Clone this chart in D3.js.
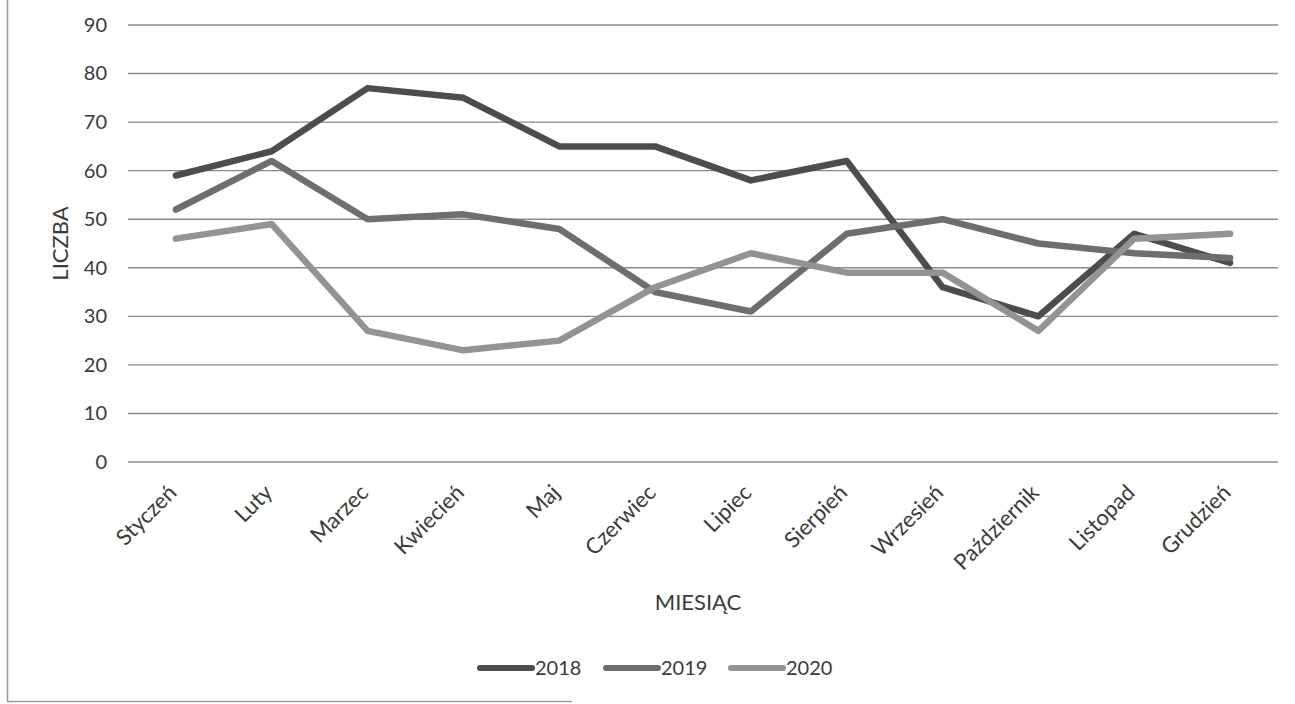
<!DOCTYPE html>
<html>
<head>
<meta charset="utf-8">
<script src="https://cdn.jsdelivr.net/npm/d3@7"></script>
<style>
  html, body { margin: 0; padding: 0; background: #fff; }
  svg { display: block; }
  text { font-family: Lato, "Open Sans", sans-serif; fill: #3a3a3a; }
</style>
</head>
<body>
<svg id="chart" width="1295" height="704"></svg>
<script>
// Miesiące (oś X)
const months = ["Styczeń", "Luty", "Marzec", "Kwiecień", "Maj", "Czerwiec",
                "Lipiec", "Sierpień", "Wrzesień", "Październik", "Listopad", "Grudzień"];
// Serie roczne
const years = ["2018", "2019", "2020"];
const values2018 = [59, 64, 77, 75, 65, 65, 58, 62, 36, 30, 47, 41];
const values2019 = [52, 62, 50, 51, 48, 35, 31, 47, 50, 45, 43, 42];
const values2020 = [46, 49, 27, 23, 25, 36, 43, 39, 39, 27, 46, 47];
// Podziałka osi Y
const yTicks = [0, 10, 20, 30, 40, 50, 60, 70, 80, 90];

const seriesColors = ["#4d4d4d", "#6e6e6e", "#939393"];
const series = [values2018, values2019, values2020].map((v, i) => ({
  name: years[i], values: v, color: seriesColors[i]
}));

const svg = d3.select("#chart");
const plot = { left: 128, right: 1278, top: 25, bottom: 462 };
const font = "Lato, 'Open Sans', sans-serif";

// Ramka wykresu (lewa i dolna krawędź)
svg.append("path")
  .attr("d", "M7.5,0 V701.5 H572")
  .attr("fill", "none")
  .attr("stroke", "#9a9a9a")
  .attr("stroke-width", 1.5);

const x = d3.scaleBand().domain(months).range([plot.left, plot.right]);
const y = d3.scaleLinear().domain([0, 90]).range([plot.bottom, plot.top]);

// Linie siatki
svg.append("g")
  .selectAll("line")
  .data(yTicks)
  .join("line")
  .attr("x1", plot.left).attr("x2", plot.right)
  .attr("y1", d => y(d)).attr("y2", d => y(d))
  .attr("stroke", "#8a8a8a")
  .attr("stroke-width", 1.4);

// Oś Y – etykiety
const yAxis = svg.append("g")
  .attr("transform", `translate(${plot.left - 21},0)`)
  .call(d3.axisLeft(y).tickValues(yTicks).tickSize(0).tickPadding(0));
yAxis.select(".domain").remove();
yAxis.selectAll("text")
  .style("font-family", font)
  .style("font-size", "20px")
  .attr("fill", "#3a3a3a");

// Oś X – etykiety obrócone
const xAxis = svg.append("g")
  .attr("transform", `translate(0,${plot.bottom})`)
  .call(d3.axisBottom(x).tickSize(0).tickPadding(0));
xAxis.select(".domain").remove();
xAxis.selectAll("text")
  .style("font-family", font)
  .style("font-size", "22px")
  .attr("fill", "#3a3a3a")
  .attr("text-anchor", "end")
  .attr("dy", null)
  .attr("y", 0)
  .attr("transform", "translate(2,32) rotate(-45)");

// Tytuły osi
svg.append("text")
  .attr("transform", `translate(68,${(plot.top + plot.bottom) / 2}) rotate(-90)`)
  .attr("text-anchor", "middle")
  .style("font-size", "22px")
  .text("LICZBA");

svg.append("text")
  .attr("x", 698).attr("y", 610)
  .attr("text-anchor", "middle")
  .style("font-size", "22px")
  .text("MIESIĄC");

// Linie serii
const line = d3.line()
  .x((d, i) => x(months[i]) + x.bandwidth() / 2)
  .y(d => y(d));

svg.append("g")
  .selectAll("path")
  .data(series)
  .join("path")
  .attr("d", d => line(d.values))
  .attr("fill", "none")
  .attr("stroke", d => d.color)
  .attr("stroke-width", 6.5)
  .attr("stroke-linejoin", "round")
  .attr("stroke-linecap", "round");

// Legenda
const legendX = [480, 606, 731];
const legend = svg.append("g")
  .selectAll("g")
  .data(series)
  .join("g")
  .attr("transform", (d, i) => `translate(${legendX[i]},668)`);
legend.append("line")
  .attr("x1", 0).attr("x2", 52)
  .attr("stroke", d => d.color)
  .attr("stroke-width", 6)
  .attr("stroke-linecap", "round");
legend.append("text")
  .attr("x", 55).attr("y", 7)
  .style("font-size", "20px")
  .text(d => d.name);
</script>
</body>
</html>
